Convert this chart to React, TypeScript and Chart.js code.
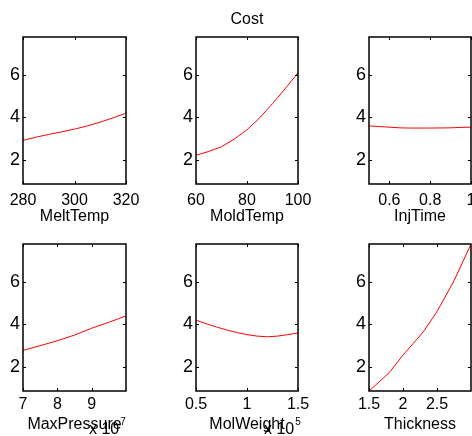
import React, { useEffect, useRef } from 'react';
import { Chart, registerables } from 'chart.js';

Chart.register(...registerables);

const W = 472;
const H = 436;
const FONT = "'Liberation Sans', Arial, Helvetica, sans-serif";

// ---------- data ----------
const chartTitle = 'Cost';

const yTickValues = [2, 4, 6];
const yTickLabels = ['2', '4', '6'];
const yMin = 0.87;
const yMax = 7.78;

const meltTempX = [280, 285, 290, 295, 300, 305, 310, 315, 320];
const meltTempY = [2.92, 3.07, 3.2, 3.32, 3.45, 3.6, 3.78, 3.98, 4.2];
const meltTempTicks = [280, 300, 320];
const meltTempTickLabels = ['280', '300', '320'];

const moldTempX = [60, 65, 70, 75, 80, 85, 90, 95, 100];
const moldTempY = [2.22, 2.4, 2.62, 2.98, 3.42, 3.98, 4.65, 5.35, 6.1];
const moldTempTicks = [60, 80, 100];
const moldTempTickLabels = ['60', '80', '100'];

const injTimeX = [0.5, 0.55, 0.6, 0.65, 0.7, 0.8, 0.9, 0.95, 1.0];
const injTimeY = [3.6, 3.57, 3.54, 3.51, 3.5, 3.5, 3.51, 3.53, 3.54];
const injTimeTicks = [0.6, 0.8, 1];
const injTimeTickLabels = ['0.6', '0.8', '1'];

const maxPressureX = [7e7, 7.5e7, 8e7, 8.5e7, 9e7, 9.5e7, 1e8];
const maxPressureY = [2.78, 3.0, 3.23, 3.5, 3.82, 4.1, 4.4];
const maxPressureTicks = [7e7, 8e7, 9e7];
const maxPressureTickLabels = ['7', '8', '9'];

const molWeightX = [0.5e5, 0.6e5, 0.7e5, 0.8e5, 0.9e5, 1.0e5, 1.1e5, 1.2e5, 1.3e5, 1.4e5, 1.5e5];
const molWeightY = [4.2, 4.03, 3.88, 3.74, 3.62, 3.52, 3.45, 3.42, 3.45, 3.52, 3.6];
const molWeightTicks = [0.5e5, 1e5, 1.5e5];
const molWeightTickLabels = ['0.5', '1', '1.5'];

const thicknessX = [1.5, 1.65, 1.8, 2.0, 2.15, 2.3, 2.5, 2.75, 3.0];
const thicknessY = [0.87, 1.3, 1.74, 2.56, 3.1, 3.66, 4.6, 6.05, 7.78];
const thicknessTicks = [1.5, 2, 2.5];
const thicknessTickLabels = ['1.5', '2', '2.5'];

// ---------- layout ----------
const COLS = [
  [23, 126],
  [196, 298],
  [369, 471],
];
const ROWS = [
  { top: 37, bottom: 184, tickPad: 9, xh: 41 },
  { top: 244, bottom: 391, tickPad: 6, xh: 42 },
];
const YW = 20;

type Panel = {
  row: number;
  col: number;
  label: string;
  xs: number[];
  ys: number[];
  xMin: number;
  xMax: number;
  ticks: number[];
  tickLabels: string[];
  exponent?: { text: string; x: number };
  title?: string;
};

const panels: Panel[] = [
  { row: 0, col: 0, label: 'MeltTemp', xs: meltTempX, ys: meltTempY, xMin: 280, xMax: 320, ticks: meltTempTicks, tickLabels: meltTempTickLabels },
  { row: 0, col: 1, label: 'MoldTemp', xs: moldTempX, ys: moldTempY, xMin: 60, xMax: 100, ticks: moldTempTicks, tickLabels: moldTempTickLabels, title: chartTitle },
  { row: 0, col: 2, label: 'InjTime', xs: injTimeX, ys: injTimeY, xMin: 0.5, xMax: 1, ticks: injTimeTicks, tickLabels: injTimeTickLabels },
  { row: 1, col: 0, label: 'MaxPressure', xs: maxPressureX, ys: maxPressureY, xMin: 7e7, xMax: 1e8, ticks: maxPressureTicks, tickLabels: maxPressureTickLabels, exponent: { text: '7', x: 89 } },
  { row: 1, col: 1, label: 'MolWeight', xs: molWeightX, ys: molWeightY, xMin: 0.5e5, xMax: 1.5e5, ticks: molWeightTicks, tickLabels: molWeightTickLabels, exponent: { text: '5', x: 264 } },
  { row: 1, col: 2, label: 'Thickness', xs: thicknessX, ys: thicknessY, xMin: 1.5, xMax: 3, ticks: thicknessTicks, tickLabels: thicknessTickLabels },
];

function makeBoxPlugin(p: Panel) {
  return {
    id: 'matlabBox' + p.row + p.col,
    afterDraw(chart: any) {
      const { ctx, chartArea } = chart;
      const { left, top, right, bottom } = chartArea;
      const xs = chart.scales.x;
      const ys = chart.scales.y;
      ctx.save();
      ctx.strokeStyle = '#000';
      ctx.lineWidth = 1.5;
      ctx.strokeRect(left, top, right - left, bottom - top);
      ctx.lineWidth = 1;
      ctx.beginPath();
      const tl = 3;
      p.ticks.forEach((v) => {
        const px = Math.round(xs.getPixelForValue(v)) + 0.5;
        ctx.moveTo(px, bottom);
        ctx.lineTo(px, bottom - tl);
        ctx.moveTo(px, top);
        ctx.lineTo(px, top + tl);
      });
      yTickValues.forEach((v) => {
        const py = Math.round(ys.getPixelForValue(v)) + 0.5;
        ctx.moveTo(left, py);
        ctx.lineTo(left + tl, py);
        ctx.moveTo(right, py);
        ctx.lineTo(right - tl, py);
      });
      ctx.stroke();
      ctx.fillStyle = '#000';
      ctx.textBaseline = 'alphabetic';
      if (p.title) {
        ctx.textAlign = 'center';
        ctx.font = `16px ${FONT}`;
        ctx.fillText(p.title, (left + right) / 2, 24);
      }
      if (p.exponent) {
        ctx.textAlign = 'left';
        ctx.font = `16px ${FONT}`;
        const base = 'x 10';
        ctx.fillText(base, p.exponent.x, 434);
        const w = ctx.measureText(base).width;
        ctx.font = `10px ${FONT}`;
        ctx.fillText(p.exponent.text, p.exponent.x + w + 1, 425);
      }
      ctx.restore();
    },
  };
}

function PanelChart({ p }: { p: Panel }) {
  const ref = useRef<HTMLCanvasElement | null>(null);
  useEffect(() => {
    if (!ref.current) return;
    const [l, r] = COLS[p.col];
    const row = ROWS[p.row];
    const chart = new Chart(ref.current, {
      type: 'line',
      data: {
        datasets: [
          {
            data: p.xs.map((x, i) => ({ x, y: p.ys[i] })),
            borderColor: '#ff0000',
            borderWidth: 1,
            pointRadius: 0,
            tension: 0,
            fill: false,
          },
        ],
      },
      options: {
        animation: false,
        responsive: false,
        events: [],
        layout: {
          padding: {
            left: l - YW,
            top: row.top,
            right: W - r,
            bottom: H - row.bottom - row.xh,
          },
        },
        plugins: {
          legend: { display: false },
          tooltip: { enabled: false },
          title: { display: false },
        },
        scales: {
          x: {
            type: 'linear',
            min: p.xMin,
            max: p.xMax,
            grid: { display: false, drawTicks: false },
            border: { display: false },
            ticks: {
              padding: row.tickPad,
              color: '#000',
              maxRotation: 0,
              autoSkip: false,
              font: { family: FONT, size: 16, lineHeight: 1 },
              callback: (_v: any, i: number) => p.tickLabels[i],
            },
            title: {
              display: true,
              text: p.label,
              color: '#000',
              padding: 0,
              font: { family: FONT, size: 16, lineHeight: 1 },
            },
            afterBuildTicks: (s: any) => {
              s.ticks = p.ticks.map((v) => ({ value: v }));
            },
            afterFit: (s: any) => {
              s.height = row.xh;
              s.paddingLeft = 0;
              s.paddingRight = 0;
            },
          },
          y: {
            type: 'linear',
            min: yMin,
            max: yMax,
            grid: { display: false, drawTicks: false },
            border: { display: false },
            ticks: {
              padding: 3,
              color: '#000',
              autoSkip: false,
              font: { family: FONT, size: 18, lineHeight: 1 },
              callback: (_v: any, i: number) => yTickLabels[i],
            },
            afterBuildTicks: (s: any) => {
              s.ticks = yTickValues.map((v) => ({ value: v }));
            },
            afterFit: (s: any) => {
              s.width = YW;
              s.paddingTop = 0;
              s.paddingBottom = 0;
            },
          },
        },
      } as any,
      plugins: [makeBoxPlugin(p)],
    });
    return () => chart.destroy();
  }, [p]);
  return (
    <canvas
      ref={ref}
      width={W}
      height={H}
      style={{ position: 'absolute', left: 0, top: 0, width: W, height: H }}
    />
  );
}

export default function App() {
  return (
    <div
      style={{
        position: 'absolute',
        left: 0,
        top: 0,
        width: W,
        height: H,
        background: '#fff',
        overflow: 'hidden',
      }}
    >
      {panels.map((p) => (
        <PanelChart key={p.label} p={p} />
      ))}
    </div>
  );
}
